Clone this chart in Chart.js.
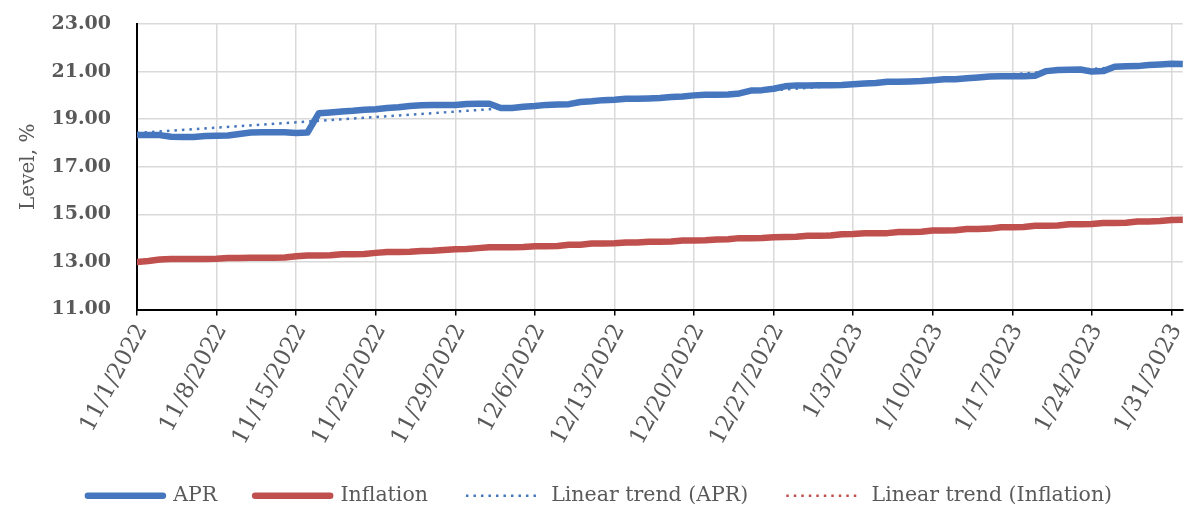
<!DOCTYPE html>
<html>
<head>
<meta charset="utf-8">
<script src="https://cdn.jsdelivr.net/npm/chart.js@4.4.1/dist/chart.umd.min.js"></script>
<style>
html,body{margin:0;padding:0;background:#fff;}
canvas{display:block;}
</style>
</head>
<body>
<canvas id="c" width="1200" height="526"></canvas>
<script>
// Day index 0 = 11/1/2022 ... 92 = 2/1/2023
const tickDays = [0, 7, 14, 21, 28, 35, 42, 49, 56, 63, 70, 77, 84, 91];
const tickLabels = ['11/1/2022','11/8/2022','11/15/2022','11/22/2022','11/29/2022','12/6/2022','12/13/2022','12/20/2022','12/27/2022','1/3/2023','1/10/2023','1/17/2023','1/24/2023','1/31/2023'];

const aprValues = [
18.33,18.33,18.33,18.26,18.25,18.25,18.29,18.30,18.31,18.38,
18.44,18.45,18.45,18.45,18.42,18.44,19.25,19.28,19.32,19.35,
19.40,19.42,19.47,19.50,19.55,19.58,19.60,19.60,19.60,19.64,
19.65,19.65,19.47,19.47,19.52,19.55,19.60,19.62,19.63,19.72,
19.75,19.80,19.82,19.86,19.86,19.87,19.89,19.93,19.95,20.00,
20.03,20.03,20.04,20.08,20.20,20.22,20.28,20.38,20.42,20.42,
20.43,20.43,20.44,20.47,20.50,20.52,20.57,20.57,20.58,20.60,
20.64,20.68,20.68,20.72,20.75,20.79,20.80,20.80,20.80,20.82,
21.02,21.07,21.08,21.09,21.00,21.02,21.20,21.22,21.23,21.28,
21.30,21.33,21.32];

const inflationValues = [
13.00,13.04,13.10,13.12,13.12,13.12,13.12,13.13,13.16,13.16,
13.17,13.18,13.18,13.19,13.24,13.27,13.27,13.28,13.32,13.32,
13.33,13.38,13.42,13.42,13.43,13.46,13.47,13.50,13.53,13.54,
13.58,13.62,13.62,13.62,13.63,13.66,13.66,13.67,13.72,13.72,
13.77,13.77,13.78,13.82,13.82,13.85,13.85,13.86,13.90,13.90,
13.91,13.94,13.95,14.00,14.00,14.01,14.04,14.05,14.06,14.10,
14.10,14.11,14.16,14.17,14.20,14.20,14.21,14.26,14.26,14.27,
14.32,14.32,14.33,14.38,14.38,14.40,14.46,14.46,14.47,14.52,
14.52,14.53,14.58,14.58,14.59,14.64,14.64,14.65,14.70,14.70,
14.72,14.76,14.77];

// Linear trend end points [first day, last day]
const trendDays = [0, 92];
const aprTrend = [18.42, 21.37];
const inflationTrend = [13.00, 14.78];

const yTicks = [11, 13, 15, 17, 19, 21, 23];

const toPoints = (vals) => vals.map((v, i) => ({x: i, y: v}));
const toTrend = (vals) => vals.map((v, i) => ({x: trendDays[i], y: v}));

const BLUE = '#4677BE';
const RED = '#C0504D';
const GREY = '#595959';
const FONT = "'DejaVu Serif', 'Liberation Serif', serif";
const DOTS = [2.5, 5];

Chart.defaults.font.family = FONT;
Chart.defaults.color = GREY;

new Chart(document.getElementById('c'), {
  type: 'line',
  data: {
    datasets: [
      {label: 'APR', data: toPoints(aprValues), borderColor: BLUE, backgroundColor: BLUE,
       borderWidth: 6.5, pointRadius: 0, borderCapStyle: 'round', borderJoinStyle: 'round', order: 1},
      {label: 'Inflation', data: toPoints(inflationValues), borderColor: RED, backgroundColor: RED,
       borderWidth: 6.5, pointRadius: 0, borderCapStyle: 'round', borderJoinStyle: 'round', order: 1},
      {label: 'Linear trend (APR)', data: toTrend(aprTrend), borderColor: BLUE, backgroundColor: BLUE,
       borderWidth: 2.5, borderDash: DOTS, pointRadius: 0, order: 2},
      {label: 'Linear trend (Inflation)', data: toTrend(inflationTrend), borderColor: RED, backgroundColor: RED,
       borderWidth: 2.5, borderDash: DOTS, pointRadius: 0, order: 2}
    ]
  },
  options: {
    responsive: false,
    animation: false,
    devicePixelRatio: 1,
    layout: {padding: {top: 24, right: 17, left: 17, bottom: 10}},
    plugins: {
      tooltip: {enabled: false},
      legend: {
        position: 'bottom',
        labels: {
          usePointStyle: true,
          pointStyle: 'line',
          pointStyleWidth: 75,
          boxHeight: 21,
          padding: 38,
          color: GREY,
          font: {size: 20.5, family: FONT},
          generateLabels: (chart) => {
            const items = Chart.defaults.plugins.legend.labels.generateLabels(chart);
            items.forEach((it) => {
              const ds = chart.data.datasets[it.datasetIndex];
              it.lineDash = ds.borderDash || [];
              it.lineWidth = ds.borderWidth;
              it.strokeStyle = ds.borderColor;
              it.lineCap = ds.borderDash ? 'butt' : 'round';
            });
            return items;
          }
        }
      }
    },
    scales: {
      x: {
        type: 'linear',
        min: 0,
        max: 92,
        afterBuildTicks: (scale) => { scale.ticks = tickDays.map(v => ({value: v})); },
        afterFit: (scale) => { scale.height = 138; },
        ticks: {
          autoSkip: false,
          minRotation: 62,
          maxRotation: 62,
          padding: 4,
          labelOffset: 5,
          color: GREY,
          font: {size: 23, family: FONT},
          callback: (v) => { const k = tickDays.indexOf(v); return k >= 0 ? tickLabels[k] : ''; }
        },
        grid: {color: '#D9D9D9', lineWidth: 1.5, tickColor: '#000', tickLength: 6, drawTicks: true},
        border: {color: '#000', width: 2}
      },
      y: {
        min: 11,
        max: 23,
        afterBuildTicks: (scale) => { scale.ticks = yTicks.map(v => ({value: v})); },
        afterFit: (scale) => { scale.width = 120; },
        ticks: {
          padding: 0,
          color: GREY,
          font: {size: 19, weight: 'bold', family: FONT},
          callback: (v) => Number(v).toFixed(2)
        },
        grid: {color: '#D9D9D9', lineWidth: 1.5, drawTicks: true, tickLength: 26, tickColor: 'rgba(0,0,0,0)'},
        border: {color: '#000', width: 2},
        title: {display: true, text: 'Level, %', color: GREY, font: {size: 20, family: FONT}, padding: {top: 0, bottom: 4}}
      }
    }
  }
});
</script>
</body>
</html>
